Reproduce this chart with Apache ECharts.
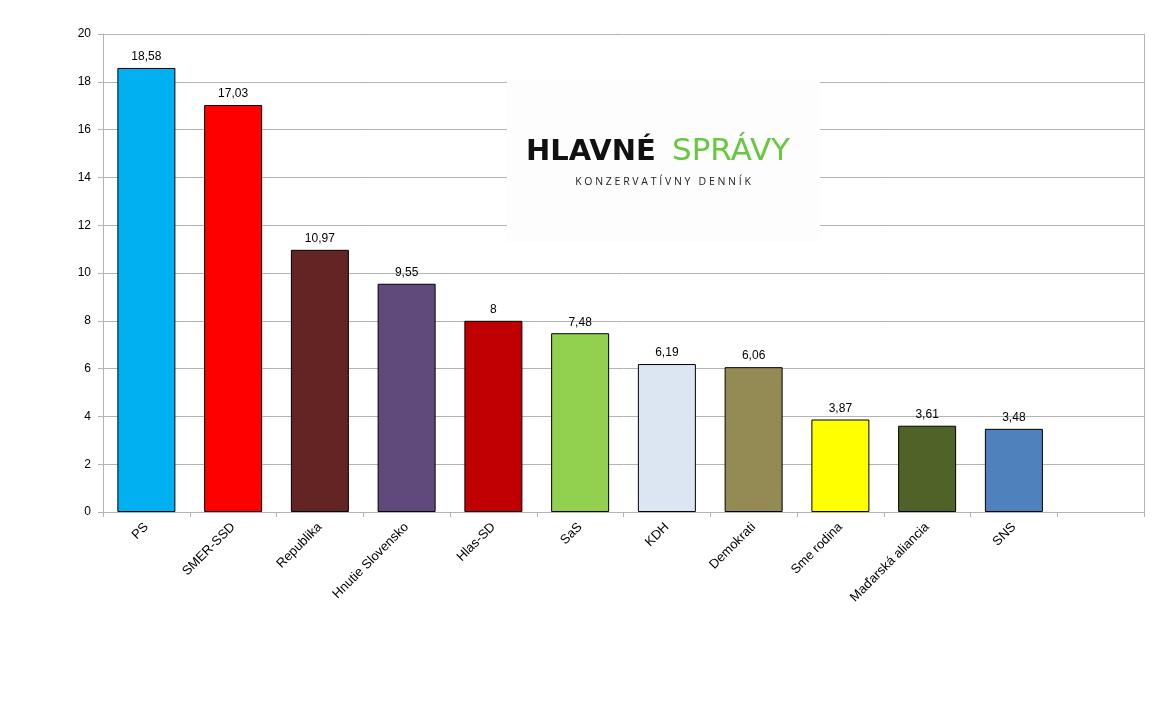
<!DOCTYPE html>
<html>
<head>
<meta charset="utf-8">
<script src="https://cdn.jsdelivr.net/npm/echarts@6/dist/echarts.min.js"></script>
<style>
html,body{margin:0;padding:0;background:#fff;}
#c{width:1161px;height:705px;}
</style>
</head>
<body>
<div id="c"></div>
<script>
const categories = ['PS','SMER-SSD','Republika','Hnutie Slovensko','Hlas-SD','SaS','KDH','Demokrati','Sme rodina','Maďarská aliancia','SNS',''];
const values = [18.58, 17.03, 10.97, 9.55, 8, 7.48, 6.19, 6.06, 3.87, 3.61, 3.48, null];
const colors = ['#00b0f0','#ff0000','#632523','#604a7b','#c00000','#92d050','#dce6f2','#948a54','#ffff00','#4f6228','#4f81bd','#ffffff'];
const yTicks = {min: 0, max: 20, interval: 2};

const font = '"Liberation Sans", Arial, sans-serif';
const chart = echarts.init(document.getElementById('c'));
chart.setOption({
  animation: false,
  backgroundColor: '#ffffff',
  grid: {left: 103, right: 17, top: 34, bottom: 193, containLabel: false},
  xAxis: {
    type: 'category',
    data: categories,
    boundaryGap: true,
    axisLine: {show: true, lineStyle: {color: '#b3b3b3', width: 1}},
    axisTick: {show: true, alignWithLabel: false, length: 5, lineStyle: {color: '#b3b3b3'}},
    axisLabel: {rotate: 45, interval: 0, color: '#000', fontSize: 13, fontFamily: font, margin: 13}
  },
  yAxis: [{
    type: 'value',
    min: yTicks.min, max: yTicks.max, interval: yTicks.interval,
    axisLine: {show: true, lineStyle: {color: '#b3b3b3', width: 1}},
    axisTick: {show: true, inside: false, length: 5, lineStyle: {color: '#b3b3b3'}},
    axisLabel: {color: '#000', fontSize: 12, fontFamily: font, margin: 12},
    splitLine: {show: true, lineStyle: {color: '#b3b3b3', width: 1}}
  }, {
    type: 'value', position: 'right',
    min: yTicks.min, max: yTicks.max, interval: yTicks.interval,
    axisLine: {show: true, lineStyle: {color: '#b3b3b3', width: 1}},
    axisTick: {show: false}, axisLabel: {show: false}, splitLine: {show: false}
  }],
  series: [{
    type: 'bar',
    barWidth: 58,
    data: values.map((v, i) => ({value: v, itemStyle: {color: colors[i]}})),
    itemStyle: {borderColor: '#000', borderWidth: 1},
    label: {
      show: true, position: 'top', distance: 5,
      color: '#000', fontSize: 12, fontFamily: font,
      formatter: p => (p.value == null ? '' : String(p.value).replace('.', ','))
    }
  }],
  graphic: [{
    type: 'rect', left: 507, top: 79, z: 50,
    shape: {width: 313, height: 163},
    style: {fill: '#fdfdfd'}
  }, {
    type: 'text', x: 526, y: 152, z: 51,
    style: {text: 'HLAVNÉ', fill: '#111111', font: 'bold 29px "DejaVu Sans", sans-serif', verticalAlign: 'middle', align: 'left'}
  }, {
    type: 'text', x: 672, y: 152, z: 51,
    style: {text: 'SPRÁVY', fill: '#66c83e', font: '31px "DejaVu Sans", sans-serif', verticalAlign: 'middle', align: 'left'}
  }, {
    type: 'text', x: 663, y: 182, z: 51,
    style: {text: 'K O N Z E R V A T Í V N Y   D E N N Í K', fill: '#222222', font: '10.5px "Open Sans", sans-serif', verticalAlign: 'middle', align: 'center'}
  }]
});
</script>
</body>
</html>
